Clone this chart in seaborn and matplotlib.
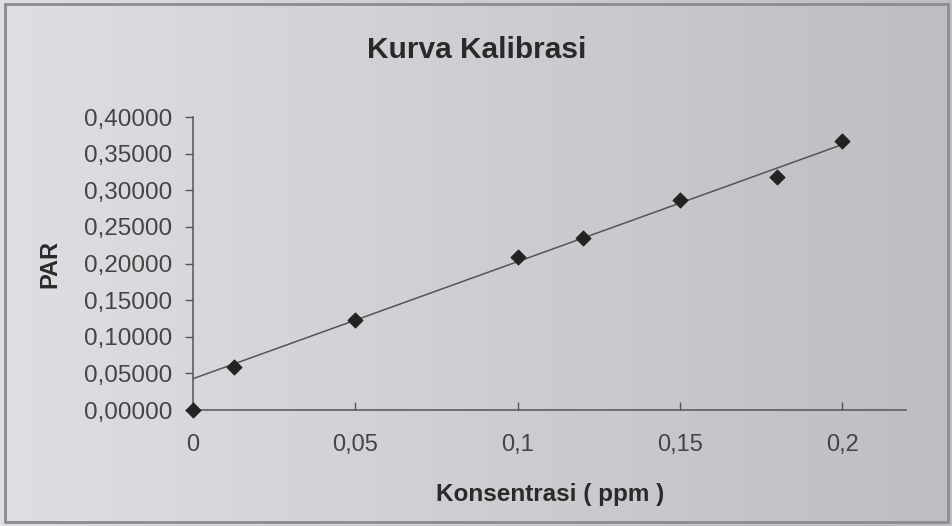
import numpy as np
import pandas as pd
import seaborn as sns
import matplotlib.pyplot as plt
from matplotlib.patches import Rectangle
from matplotlib.ticker import FuncFormatter

# calibration data
konsentrasi = [0, 0.0125, 0.05, 0.1, 0.12, 0.15, 0.18, 0.2]
par = [0.0, 0.059, 0.123, 0.209, 0.235, 0.287, 0.318, 0.367]
y_ticks = [0.0, 0.05, 0.1, 0.15, 0.2, 0.25, 0.3, 0.35, 0.4]
x_ticks = [0, 0.05, 0.1, 0.15, 0.2]

df = pd.DataFrame({'Konsentrasi': konsentrasi, 'PAR': par})

sns.set_style('ticks')
plt.rcParams['font.family'] = ['Liberation Sans', 'DejaVu Sans']

fig = plt.figure(figsize=(9.53, 5.26), dpi=100)

# grey gradient background like the Excel chart area
bg = fig.add_axes([0, 0, 1, 1], zorder=-10)
grad = np.linspace(0, 1, 256).reshape(1, -1)
bg.imshow(grad, aspect='auto', cmap=sns.blend_palette(['#dedfe2', '#bcbec2'], as_cmap=True),
          extent=[0, 1, 0, 1])
bg.set_xlim(0, 1)
bg.set_ylim(0, 1)
bg.axis('off')
fig.patches.append(Rectangle((0.005, 0.008), 0.99, 0.985, transform=fig.transFigure,
                             fill=False, edgecolor='#8a8c90', linewidth=2))

ax = fig.add_axes([0.2025, 0.2205, 0.7485, 0.557])
ax.set_facecolor('none')

# trend line fitted without the blank point, as in the original
fit = df[df['Konsentrasi'] > 0]
slope, intercept = np.polyfit(fit['Konsentrasi'], fit['PAR'], 1)
line_x = np.array([0, max(konsentrasi)])
sns.lineplot(x=line_x, y=slope * line_x + intercept, ax=ax, color='#555555', linewidth=1.1)

sns.scatterplot(data=df, x='Konsentrasi', y='PAR', ax=ax, marker='D', s=60,
                color='#222222', edgecolor='#222222', clip_on=False, zorder=5)

ax.set_xlim(0, 0.2197)
ax.set_ylim(0, 0.4)
ax.set_xticks(x_ticks)
ax.set_yticks(y_ticks)
ax.xaxis.set_major_formatter(FuncFormatter(lambda v, p: ('%g' % v).replace('.', ',')))
ax.yaxis.set_major_formatter(FuncFormatter(lambda v, p: ('%.5f' % v).replace('.', ',')))
ax.tick_params(axis='y', direction='out', length=6, width=1, color='#555555',
               labelsize=17.5, labelcolor='#444444', pad=9)
ax.tick_params(axis='x', direction='in', length=6, width=1, color='#555555',
               labelsize=17, labelcolor='#444444', pad=17)

sns.despine(ax=ax)
for s in ['left', 'bottom']:
    ax.spines[s].set_color('#555555')
    ax.spines[s].set_linewidth(1.1)

ax.set_xlabel('Konsentrasi ( ppm )', fontsize=17.5, fontweight='bold', color='#2a2a2a', labelpad=20)
ax.set_ylabel('PAR', fontsize=17, fontweight='bold', color='#2a2a2a', labelpad=16)
fig.text(0.5, 0.905, 'Kurva Kalibrasi', ha='center', va='center', fontsize=21.5,
         fontweight='bold', color='#2a2a2a')

fig.savefig('out.png', dpi=100)
